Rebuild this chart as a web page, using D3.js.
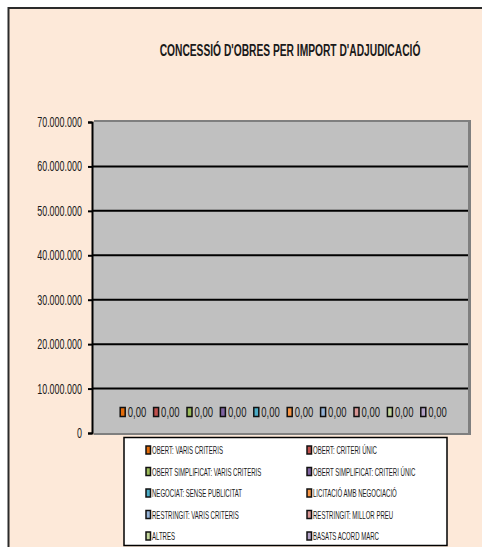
<!DOCTYPE html>
<html>
<head>
<meta charset="utf-8">
<script src="https://cdn.jsdelivr.net/npm/d3@7"></script>
<style>
  body { margin: 0; background: #fff; }
  svg { display: block; font-family: "Liberation Sans", Arial, sans-serif; }
</style>
</head>
<body>
<div id="chart"></div>
<script>
// series shown in the legend (Excel order)
var seriesNames = [
  "OBERT: VARIS CRITERIS",
  "OBERT: CRITERI ÚNIC",
  "OBERT SIMPLIFICAT: VARIS CRITERIS",
  "OBERT SIMPLIFICAT: CRITERI ÚNIC",
  "NEGOCIAT: SENSE  PUBLICITAT",
  "LICITACIÓ AMB NEGOCIACIÓ",
  "RESTRINGIT: VARIS CRITERIS",
  "RESTRINGIT: MILLOR PREU",
  "ALTRES",
  "BASATS ACORD MARC"
];
var seriesColors = ["#E46C0A", "#C0504D", "#9BBB59", "#8064A2", "#4BACC6",
                    "#F79646", "#95B3D7", "#D99694", "#C3D69B", "#B3A2C7"];
var seriesValues = [0, 0, 0, 0, 0, 0, 0, 0, 0, 0];
var yTicks = [0, 10000000, 20000000, 30000000, 40000000, 50000000, 60000000, 70000000];
var title = "CONCESSIÓ D'OBRES PER IMPORT D'ADJUDICACIÓ";

var width = 482, height = 547;
var plot = { left: 92, right: 469, top: 122, bottom: 433 };

var locale = d3.formatLocale({ decimal: ",", thousands: ".", grouping: [3], currency: ["", "€"] });
var fmtAxis = locale.format(",.0f");
var fmtLabel = locale.format(",.2f");

// no narrow font available, so squeeze text horizontally
function squeeze(sel, sx) {
  sel.each(function() {
    var t = d3.select(this);
    var tx = +t.attr("x") || 0, ty = +t.attr("y") || 0;
    t.attr("x", null).attr("y", null)
      .attr("transform", "translate(" + tx + "," + ty + ") scale(" + sx + ",1)");
  });
}

var svg = d3.select("#chart").append("svg")
  .attr("width", width)
  .attr("height", height);

// chart area background + border
svg.append("rect")
  .attr("x", 8.5).attr("y", 8)
  .attr("width", 490).attr("height", 560)
  .attr("fill", "#FDE9D9")
  .attr("stroke", "#2b2b2b")
  .attr("stroke-width", 2);

svg.append("text")
  .attr("x", 290).attr("y", 56)
  .attr("text-anchor", "middle")
  .attr("font-size", "16px")
  .attr("font-weight", "bold")
  .attr("fill", "#1a1a1a")
  .text(title)
  .call(squeeze, 0.64);

var y = d3.scaleLinear().domain([0, 70000000]).range([plot.bottom, plot.top]);
var x = d3.scaleBand().domain(seriesNames).range([113, 447]);

// plot area with shadow
svg.append("rect")
  .attr("x", plot.left + 2).attr("y", plot.top - 2)
  .attr("width", plot.right - plot.left).attr("height", plot.bottom - plot.top + 4)
  .attr("fill", "#7f7f7f");
svg.append("rect")
  .attr("x", plot.left).attr("y", plot.top)
  .attr("width", plot.right - plot.left - 1).attr("height", plot.bottom - plot.top)
  .attr("fill", "#C0C0C0");

// gridlines
svg.append("g")
  .selectAll("line")
  .data(yTicks.filter(function(d) { return d > 0 && d < 70000000; }))
  .enter().append("line")
  .attr("x1", plot.left).attr("x2", plot.right - 1)
  .attr("y1", function(d) { return y(d); })
  .attr("y2", function(d) { return y(d); })
  .attr("stroke", "#000")
  .attr("stroke-width", 2);

// bars (all zero)
svg.append("g")
  .selectAll("rect")
  .data(seriesValues)
  .enter().append("rect")
  .attr("x", function(d, i) { return x(seriesNames[i]) + 4; })
  .attr("width", x.bandwidth() - 8)
  .attr("y", function(d) { return y(d); })
  .attr("height", function(d) { return y(0) - y(d); })
  .attr("fill", function(d, i) { return seriesColors[i]; });

// y axis
var yAxis = svg.append("g")
  .attr("transform", "translate(" + plot.left + ",0)")
  .call(d3.axisLeft(y).tickValues(yTicks).tickFormat(fmtAxis).tickSize(4).tickPadding(6));
yAxis.select(".domain").attr("stroke", "#000").attr("stroke-width", 2);
yAxis.selectAll(".tick line").attr("stroke", "#000").attr("stroke-width", 2);
yAxis.selectAll(".tick text")
  .attr("font-family", "Liberation Sans, Arial, sans-serif")
  .attr("font-size", "14px")
  .attr("fill", "#1a1a1a")
  .call(squeeze, 0.64);

// data labels with legend keys
var lab = svg.append("g")
  .selectAll("g")
  .data(seriesValues)
  .enter().append("g")
  .attr("transform", function(d, i) {
    return "translate(" + (x(seriesNames[i]) + x.bandwidth() / 2) + "," + (y(d) - 21) + ")";
  });
lab.append("rect")
  .attr("x", -9.5).attr("y", -4.5)
  .attr("width", 5).attr("height", 9)
  .attr("fill", function(d, i) { return seriesColors[i]; })
  .attr("stroke", "#111")
  .attr("stroke-width", 1.5);
lab.append("text")
  .attr("x", -2).attr("y", 5)
  .attr("font-size", "14px")
  .attr("fill", "#1a1a1a")
  .text(function(d) { return fmtLabel(d); })
  .call(squeeze, 0.68);

// legend
var legend = svg.append("g");
legend.append("rect")
  .attr("x", 124).attr("y", 437.5)
  .attr("width", 323).attr("height", 108)
  .attr("fill", "#fff")
  .attr("stroke", "#000")
  .attr("stroke-width", 1.5);

var item = legend.selectAll("g")
  .data(seriesNames)
  .enter().append("g")
  .attr("transform", function(d, i) {
    return "translate(" + (i % 2 === 0 ? 146 : 307) + "," + (450 + Math.floor(i / 2) * 21.5) + ")";
  });
item.append("rect")
  .attr("x", 0).attr("y", -4)
  .attr("width", 4.5).attr("height", 8)
  .attr("fill", function(d, i) { return seriesColors[i]; })
  .attr("stroke", "#111")
  .attr("stroke-width", 1.5);
item.append("text")
  .attr("x", 6).attr("y", 4)
  .attr("font-size", "11px")
  .attr("fill", "#1a1a1a")
  .text(function(d) { return d; })
  .call(squeeze, 0.55);
</script>
</body>
</html>
